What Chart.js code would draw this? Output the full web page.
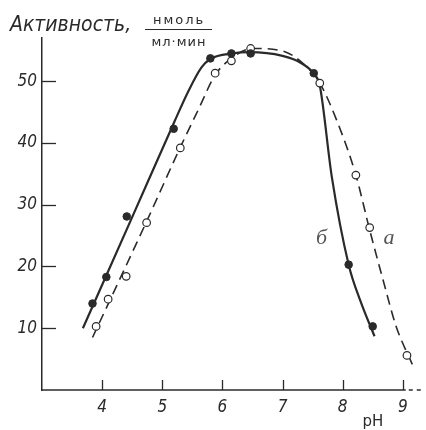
<!DOCTYPE html>
<html>
<head>
<meta charset="utf-8">
<script src="https://cdn.jsdelivr.net/npm/chart.js@4.4.1/dist/chart.umd.min.js"></script>
<style>
  html, body { margin: 0; padding: 0; background: #fff; }
  #wrap { position: relative; width: 426px; height: 430px; }
</style>
</head>
<body>
<div id="wrap"><canvas id="chart" width="426" height="430"></canvas></div>
<script>
// measured points, curve a (open circles, dashed)
const phA = [3.90, 4.10, 4.40, 4.74, 5.30, 5.88, 6.15, 6.47, 7.62, 8.22, 8.45, 9.07]
const actA = [10.3, 14.7, 18.4, 27.1, 39.2, 51.3, 53.3, 55.3, 49.7, 34.8, 26.3, 5.6]

// measured points, curve б (filled dots, solid)
const phB = [3.84, 4.07, 4.41, 5.19, 5.80, 6.15, 6.47, 7.52, 8.10, 8.50]
const actB = [14.0, 18.3, 28.1, 42.3, 53.7, 54.5, 54.5, 51.3, 20.3, 10.3]

// hand-drawn fit lines
const lineAx = [3.84, 4.74, 5.30, 5.60, 5.88, 6.15, 6.50, 7.00, 7.35, 7.62, 7.90, 8.22, 8.44, 8.67, 8.89, 9.17]
const lineAy = [8.5, 27.3, 39.3, 45.4, 51.0, 53.7, 55.3, 54.9, 52.8, 49.7, 43.7, 34.8, 26.3, 17.9, 10.3, 3.9]
const lineBx = [3.68, 4.50, 5.20, 5.43, 5.65, 5.80, 6.17, 6.45, 7.00, 7.30, 7.54, 7.62, 7.82, 8.10, 8.30, 8.53]
const lineBy = [10.0, 28.0, 43.4, 48.3, 52.2, 53.6, 54.5, 54.7, 54.1, 53.0, 51.0, 49.3, 34.5, 20.3, 14.3, 8.7]

const xTicks = [4, 5, 6, 7, 8, 9]
const yTicks = [10, 20, 30, 40, 50]

const ink = "#2a2a2a"
const tickFont = { family: "'Liberation Sans Narrow', 'DejaVu Sans Condensed', sans-serif", size: 17, style: "italic" }

const pts = (xs, ys) => xs.map((x, i) => ({ x: x, y: ys[i] }))

// tick marks point inwards on this figure, plus the captions
const figurePlugin = {
  id: "figure",
  afterDatasetsDraw(chart) {
    const ctx = chart.ctx
    const xs = chart.scales.x
    const ys = chart.scales.y
    const area = chart.chartArea
    ctx.save()
    ctx.strokeStyle = ink
    ctx.lineWidth = 1.3
    yTicks.forEach(v => {
      const py = Math.round(ys.getPixelForValue(v)) + 0.5
      ctx.beginPath(); ctx.moveTo(area.left, py); ctx.lineTo(area.left + 14, py); ctx.stroke()
    })
    xTicks.forEach(v => {
      const px = Math.round(xs.getPixelForValue(v)) + 0.5
      ctx.beginPath(); ctx.moveTo(px, area.bottom); ctx.lineTo(px, area.bottom - 10); ctx.stroke()
    })
    // x axis: solid up to 9, then dashed
    ctx.lineWidth = 1.5
    ctx.beginPath()
    ctx.moveTo(area.left, area.bottom); ctx.lineTo(xs.getPixelForValue(9.05), area.bottom)
    ctx.stroke()
    ctx.setLineDash([4, 4])
    ctx.beginPath()
    ctx.moveTo(xs.getPixelForValue(9.1), area.bottom); ctx.lineTo(area.right, area.bottom)
    ctx.stroke()
    ctx.setLineDash([])

    ctx.fillStyle = ink
    ctx.textBaseline = "alphabetic"
    ctx.font = "italic 21px 'Liberation Sans Narrow', 'DejaVu Sans Condensed', sans-serif"
    ctx.textAlign = "left"
    ctx.fillText("Активность,", 10, 31)
    ctx.font = "13px 'DejaVu Sans', sans-serif"
    ctx.textAlign = "center"
    ctx.letterSpacing = "2px"
    ctx.fillText("нмоль", 179, 24)
    ctx.letterSpacing = "1px"
    ctx.fillText("мл·мин", 179, 46)
    ctx.letterSpacing = "0px"
    ctx.lineWidth = 1
    ctx.beginPath(); ctx.moveTo(145, 29.5); ctx.lineTo(212, 29.5); ctx.stroke()

    ctx.font = "15px 'DejaVu Sans', sans-serif"
    ctx.fillText("pH", 373, 426)

    ctx.font = "italic 22px 'Liberation Serif', serif"
    ctx.fillStyle = "#555"
    ctx.fillText("б", xs.getPixelForValue(7.65), ys.getPixelForValue(23.6))
    ctx.fillText("а", xs.getPixelForValue(8.77), ys.getPixelForValue(23.6))
    ctx.restore()
  }
}

new Chart(document.getElementById("chart").getContext("2d"), {
  type: "scatter",
  data: {
    datasets: [
      {
        data: pts(phB, actB),
        pointRadius: 3.8,
        pointBackgroundColor: ink,
        pointBorderColor: ink,
        pointBorderWidth: 1,
        showLine: false
      },
      {
        data: pts(phA, actA),
        pointRadius: 3.8,
        pointBackgroundColor: "#fff",
        pointBorderColor: ink,
        pointBorderWidth: 1.2,
        showLine: false
      },
      {
        data: pts(lineBx, lineBy),
        showLine: true,
        pointRadius: 0,
        borderColor: ink,
        borderWidth: 2.2,
        cubicInterpolationMode: "monotone"
      },
      {
        data: pts(lineAx, lineAy),
        showLine: true,
        pointRadius: 0,
        borderColor: ink,
        borderWidth: 1.6,
        borderDash: [10, 6],
        cubicInterpolationMode: "monotone"
      }
    ]
  },
  options: {
    responsive: false,
    animation: false,
    layout: { padding: { top: 38, right: 1, left: 0, bottom: 0 } },
    plugins: {
      legend: { display: false },
      tooltip: { enabled: false }
    },
    scales: {
      x: {
        type: "linear",
        min: 3,
        max: 9.3,
        grid: { display: false, drawTicks: false },
        border: { display: false },
        afterBuildTicks: (scale) => { scale.ticks = xTicks.map(v => ({ value: v })) },
        afterFit: (scale) => { scale.height = 40 },
        ticks: { color: ink, font: tickFont, padding: 7 }
      },
      y: {
        type: "linear",
        min: 0,
        max: 57,
        grid: { display: false, drawTicks: false },
        border: { display: true, color: ink, width: 1.5 },
        afterBuildTicks: (scale) => { scale.ticks = yTicks.map(v => ({ value: v })) },
        afterFit: (scale) => { scale.width = 42 },
        ticks: { color: ink, font: tickFont, padding: 5 }
      }
    }
  },
  plugins: [figurePlugin]
})
</script>
</body>
</html>
